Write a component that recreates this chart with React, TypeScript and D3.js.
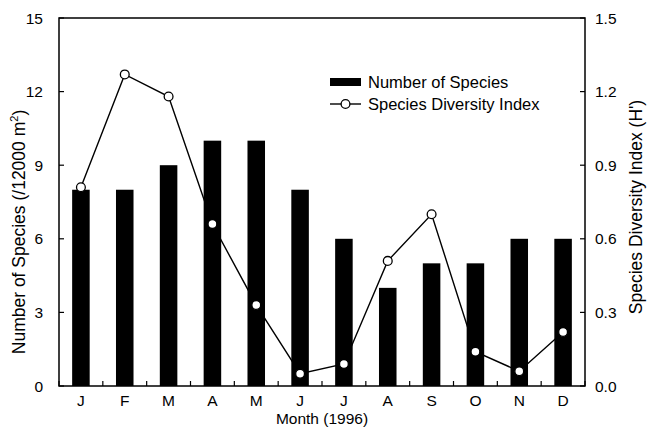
import * as d3 from "d3";

const MARGIN = { top: 18, right: 64, bottom: 42, left: 59 };
const WIDTH = 649;
const HEIGHT = 428;

const months = ["J", "F", "M", "A", "M", "J", "J", "A", "S", "O", "N", "D"];
const speciesCount = [8, 8, 9, 10, 10, 8, 6, 4, 5, 5, 6, 6];
const diversityIndex = [0.81, 1.27, 1.18, 0.66, 0.33, 0.05, 0.09, 0.51, 0.7, 0.14, 0.06, 0.22];
const leftTicks = [0, 3, 6, 9, 12, 15];
const rightTicks = [0, 0.3, 0.6, 0.9, 1.2, 1.5];

const FONT = "Liberation Sans, Arial, Helvetica, sans-serif";

const App = () => {
  const boundsWidth = WIDTH - MARGIN.left - MARGIN.right;
  const boundsHeight = HEIGHT - MARGIN.top - MARGIN.bottom;

  const keys = months.map((m, i) => `${m}${i}`);

  const xScale = d3
    .scaleBand<string>()
    .domain(keys)
    .range([0, boundsWidth])
    .paddingInner(0.6)
    .paddingOuter(0.3);

  const step = xScale.step();

  const yLeft = d3.scaleLinear().domain([0, 15]).range([boundsHeight, 0]);
  const yRight = d3.scaleLinear().domain([0, 1.5]).range([boundsHeight, 0]);

  const cx = (i: number) => xScale(keys[i])! + xScale.bandwidth() / 2;

  const lineBuilder = d3
    .line<number>()
    .x((_, i) => cx(i))
    .y((d) => yRight(d));

  const bars = speciesCount.map((v, i) => (
    <rect
      key={i}
      x={xScale(keys[i])}
      y={yLeft(v)}
      width={xScale.bandwidth()}
      height={boundsHeight - yLeft(v)}
      fill="black"
    />
  ));

  const points = diversityIndex.map((v, i) => (
    <circle
      key={i}
      cx={cx(i)}
      cy={yRight(v)}
      r={4.4}
      fill="white"
      stroke="black"
      strokeWidth={1.3}
    />
  ));

  const bottomTicks = d3.range(keys.length + 1).map((i) => (
    <line
      key={i}
      x1={i * step}
      x2={i * step}
      y1={boundsHeight}
      y2={boundsHeight - 5}
      stroke="black"
      strokeWidth={1.2}
    />
  ));

  const leftAxis = leftTicks.map((t) => (
    <g key={t}>
      <line x1={0} x2={5} y1={yLeft(t)} y2={yLeft(t)} stroke="black" strokeWidth={1.2} />
      <text
        x={-16}
        y={yLeft(t)}
        textAnchor="end"
        dominantBaseline="central"
        fontSize={15.5}
      >
        {t}
      </text>
    </g>
  ));

  const rightAxis = rightTicks.map((t) => (
    <g key={t}>
      <line
        x1={boundsWidth - 5}
        x2={boundsWidth}
        y1={yRight(t)}
        y2={yRight(t)}
        stroke="black"
        strokeWidth={1.2}
      />
      <text
        x={boundsWidth + 10}
        y={yRight(t)}
        textAnchor="start"
        dominantBaseline="central"
        fontSize={15.5}
      >
        {t.toFixed(1)}
      </text>
    </g>
  ));

  const monthLabels = months.map((m, i) => (
    <text
      key={i}
      x={cx(i)}
      y={boundsHeight + 20}
      textAnchor="middle"
      fontSize={15.5}
    >
      {m}
    </text>
  ));

  return (
    <svg
      width={WIDTH}
      height={HEIGHT}
      style={{ position: "absolute", left: 0, top: 0, background: "white" }}
      fontFamily={FONT}
      stroke="none"
    >
      <g transform={`translate(${MARGIN.left},${MARGIN.top})`}>
        {bars}
        <path
          d={lineBuilder(diversityIndex)!}
          fill="none"
          stroke="black"
          strokeWidth={1.4}
        />
        {points}
        <rect
          x={0}
          y={0}
          width={boundsWidth}
          height={boundsHeight}
          fill="none"
          stroke="black"
          strokeWidth={1.5}
        />
        {bottomTicks}
        {leftAxis}
        {rightAxis}
        {monthLabels}
        <text
          x={boundsWidth / 2}
          y={boundsHeight + 38}
          textAnchor="middle"
          fontSize={15.5}
        >
          Month (1996)
        </text>
        <text
          transform={`translate(${-34},${boundsHeight / 2 + 30}) rotate(-90)`}
          textAnchor="middle"
          fontSize={17.5}
        >
          Number of Species (/12000 m
          <tspan dy={-7} fontSize={11}>
            2
          </tspan>
          <tspan dy={7}>)</tspan>
        </text>
        <text
          transform={`translate(${boundsWidth + 57},${boundsHeight / 2 + 5}) rotate(-90)`}
          textAnchor="middle"
          fontSize={17.5}
        >
          Species Diversity Index (H')
        </text>
        <g transform="translate(271,60)">
          <rect x={0} y={0} width={31} height={8} fill="black" />
          <text x={38} y={4} dominantBaseline="central" fontSize={16.5}>
            Number of Species
          </text>
          <line x1={0} x2={31} y1={26} y2={26} stroke="black" strokeWidth={1.4} />
          <circle cx={15.5} cy={26} r={4.4} fill="white" stroke="black" strokeWidth={1.3} />
          <text x={38} y={26} dominantBaseline="central" fontSize={16.5}>
            Species Diversity Index
          </text>
        </g>
      </g>
    </svg>
  );
};

export default App;
